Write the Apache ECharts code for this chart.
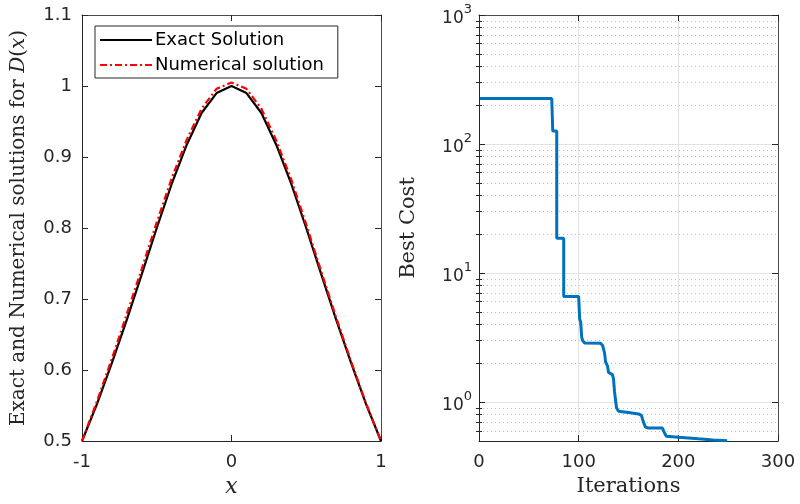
<!DOCTYPE html>
<html>
<head>
<meta charset="utf-8">
<script src="https://cdn.jsdelivr.net/npm/echarts@6/dist/echarts.min.js"></script>
<style>
  html, body { margin: 0; padding: 0; background: #ffffff; }
  #chart { width: 800px; height: 504px; }
</style>
</head>
<body>
<div id="chart"></div>
<script>
// Left panel: D(x) on a grid of x values
const xGrid = [-1, -0.9, -0.8, -0.7, -0.6, -0.5, -0.4, -0.3, -0.2, -0.1, 0,
               0.1, 0.2, 0.3, 0.4, 0.5, 0.6, 0.7, 0.8, 0.9, 1];
const exactD = [0.5, 0.552, 0.61, 0.671, 0.735, 0.8, 0.862, 0.917, 0.962, 0.99, 1,
                0.99, 0.962, 0.917, 0.862, 0.8, 0.735, 0.671, 0.61, 0.552, 0.5];
const numericalD = [0.5, 0.556, 0.616, 0.679, 0.743, 0.808, 0.870, 0.924, 0.968, 0.996, 1.005,
                    0.996, 0.968, 0.923, 0.868, 0.805, 0.739, 0.674, 0.612, 0.553, 0.5];
const leftXTicks = [-1, 0, 1];
const leftYTicks = [0.5, 0.6, 0.7, 0.8, 0.9, 1, 1.1];

// Right panel: best cost per iteration (points where the curve bends)
const iterations = [1, 73, 74, 78, 78, 85, 85, 100, 101, 102, 103, 104, 106, 122, 124, 126, 127,
                    128, 129, 130, 131, 134, 135, 136, 137, 138, 140, 150, 160, 163, 165, 167,
                    170, 184, 186, 188, 200, 220, 235, 249];
const bestCost = [225, 225, 126, 126, 18.6, 18.6, 6.6, 6.6, 4.4, 4.2, 3.2, 3.0, 2.87, 2.86, 2.75, 2.4, 2.05,
                  1.98, 1.9, 1.7, 1.65, 1.63, 1.5, 1.2, 1.17, 0.9, 0.85, 0.83, 0.81, 0.79, 0.7, 0.64,
                  0.63, 0.63, 0.58, 0.545, 0.535, 0.52, 0.51, 0.503];
const iterTicks = [0, 100, 200, 300];
const costMajorTicks = [1, 10, 100, 1000];
const costMinorTicks = [0.6, 0.7, 0.8, 0.9, 2, 3, 4, 5, 6, 7, 8, 9,
                        20, 30, 40, 50, 60, 70, 80, 90, 200, 300, 400, 500, 600, 700, 800, 900];

const SANS = 'DejaVu Sans';
const SERIF = 'DejaVu Serif';
const INK = '#262626';
const BOX = '#4a4a4a';

const tickLabel = { fontFamily: SANS, fontSize: 18, color: INK };

function frameAxis(opts) {
  return Object.assign({
    type: 'value',
    axisLine: { show: true, onZero: false, lineStyle: { color: INK, width: 1 } },
    axisTick: { show: true, inside: true, length: 6, lineStyle: { color: INK, width: 1 } },
    axisLabel: { show: false },
    splitLine: { show: false }
  }, opts);
}

const chart = echarts.init(document.getElementById('chart'), null, { renderer: 'canvas' });

chart.setOption({
  backgroundColor: '#ffffff',
  animation: false,
  grid: [
    { left: 82, top: 15, width: 299, height: 426 },
    { left: 479, top: 15, width: 299, height: 426 }
  ],
  legend: {
    data: ['Exact Solution', 'Numerical solution'],
    orient: 'vertical',
    left: 95,
    top: 26,
    itemWidth: 52,
    itemHeight: 12,
    itemGap: 7,
    padding: [5, 14, 4, 4],
    borderColor: INK,
    borderWidth: 1,
    backgroundColor: '#ffffff',
    itemStyle: { color: 'rgba(0,0,0,0)', borderWidth: 0, opacity: 0 },
    textStyle: { fontFamily: SANS, fontSize: 18, color: '#000000', padding: [0, 0, 0, -2] }
  },
  xAxis: [
    frameAxis({
      gridIndex: 0, position: 'bottom', min: -1, max: 1, interval: 1,
      axisLabel: Object.assign({ show: true, margin: 12, customValues: leftXTicks,
        formatter: v => (v < 0 ? '-' + Math.abs(v) : String(v)) }, tickLabel),
      name: 'x', nameLocation: 'middle', nameGap: 32,
      nameTextStyle: { fontFamily: SERIF, fontStyle: 'italic', fontSize: 22, color: INK }
    }),
    frameAxis({
      gridIndex: 0, position: 'top', min: -1, max: 1, interval: 1,
      axisLine: { show: true, onZero: false, lineStyle: { color: BOX, width: 1 } }
    }),
    frameAxis({
      gridIndex: 1, position: 'bottom', min: 0, max: 300, interval: 100,
      axisLabel: Object.assign({ show: true, margin: 12, customValues: iterTicks }, tickLabel),
      splitLine: { show: true, lineStyle: { color: '#e2e2e2', width: 1 } },
      name: 'Iterations', nameLocation: 'middle', nameGap: 33,
      nameTextStyle: { fontFamily: SERIF, fontSize: 21, color: INK }
    }),
    frameAxis({
      gridIndex: 1, position: 'top', min: 0, max: 300, interval: 100,
      axisLine: { show: true, onZero: false, lineStyle: { color: BOX, width: 1 } }
    })
  ],
  yAxis: [
    frameAxis({
      gridIndex: 0, position: 'left', min: 0.5, max: 1.1, interval: 0.1,
      axisTick: { show: true, inside: true, length: 6, customValues: leftYTicks, lineStyle: { color: INK } },
      axisLabel: Object.assign({ show: true, margin: 10, customValues: leftYTicks,
        formatter: v => String(+(+v).toFixed(1)) }, tickLabel),
      name: 'Exact and Numerical solutions for {i|D}({i|x})',
      nameLocation: 'middle', nameGap: 53,
      nameTextStyle: {
        fontFamily: SERIF, fontSize: 20, color: INK,
        rich: { i: { fontFamily: SERIF, fontStyle: 'italic', fontSize: 20, color: INK } }
      }
    }),
    frameAxis({
      gridIndex: 0, position: 'right', min: 0.5, max: 1.1, interval: 0.1,
      axisLine: { show: true, onZero: false, lineStyle: { color: BOX, width: 1 } },
      axisTick: { show: true, inside: true, length: 6, customValues: leftYTicks, lineStyle: { color: INK } }
    }),
    // cost axis: decades with labels and solid grid
    frameAxis({
      gridIndex: 1, type: 'log', logBase: 10, position: 'left', min: 0.5, max: 1000,
      axisTick: { show: true, inside: true, length: 6, customValues: costMajorTicks, lineStyle: { color: INK } },
      axisLabel: {
        show: true, margin: 7, customValues: costMajorTicks, color: INK,
        formatter: v => '{b|10}{s|' + Math.round(Math.log10(v)) + '}',
        rich: {
          b: { fontFamily: SANS, fontSize: 17, color: INK, verticalAlign: 'bottom', padding: [7, 0, 0, 0] },
          s: { fontFamily: SANS, fontSize: 13, color: INK, verticalAlign: 'top' }
        }
      },
      splitLine: { show: true, lineStyle: { color: '#e2e2e2', width: 1 } },
      name: 'Best Cost', nameLocation: 'middle', nameGap: 60,
      nameTextStyle: { fontFamily: SERIF, fontSize: 21, color: INK }
    }),
    // cost axis: minor ticks and dotted grid
    frameAxis({
      gridIndex: 1, type: 'log', logBase: 10, position: 'left', min: 0.5, max: 1000,
      axisLine: { show: false },
      axisTick: { show: true, inside: true, length: 3, customValues: costMinorTicks, lineStyle: { color: INK } },
      splitLine: { show: true, lineStyle: { color: '#bdbdbd', width: 1, type: [1, 3] } }
    }),
    frameAxis({
      gridIndex: 1, type: 'log', logBase: 10, position: 'right', min: 0.5, max: 1000,
      axisLine: { show: true, onZero: false, lineStyle: { color: BOX, width: 1 } },
      axisTick: { show: true, inside: true, length: 6, customValues: costMajorTicks, lineStyle: { color: INK } }
    }),
    frameAxis({
      gridIndex: 1, type: 'log', logBase: 10, position: 'right', min: 0.5, max: 1000,
      axisLine: { show: false },
      axisTick: { show: true, inside: true, length: 3, customValues: costMinorTicks, lineStyle: { color: INK } }
    })
  ],
  series: [
    {
      name: 'Exact Solution', type: 'line', xAxisIndex: 0, yAxisIndex: 0,
      data: xGrid.map((x, i) => [x, exactD[i]]),
      symbol: 'none', showSymbol: false,
      lineStyle: { color: '#000000', width: 2.2 },
      itemStyle: { color: '#000000' },
      z: 3
    },
    {
      name: 'Numerical solution', type: 'line', xAxisIndex: 0, yAxisIndex: 0,
      data: xGrid.map((x, i) => [x, numericalD[i]]),
      symbol: 'none', showSymbol: false,
      lineStyle: { color: '#ff0000', width: 2.2, type: [7, 3, 2, 3] },
      itemStyle: { color: '#ff0000' },
      z: 4
    },
    {
      name: 'Best Cost', type: 'line', xAxisIndex: 2, yAxisIndex: 2,
      data: iterations.map((it, i) => [it, bestCost[i]]),
      symbol: 'none', showSymbol: false,
      lineStyle: { color: '#0072BD', width: 3 },
      itemStyle: { color: '#0072BD' },
      z: 3
    }
  ]
});
</script>
</body>
</html>
